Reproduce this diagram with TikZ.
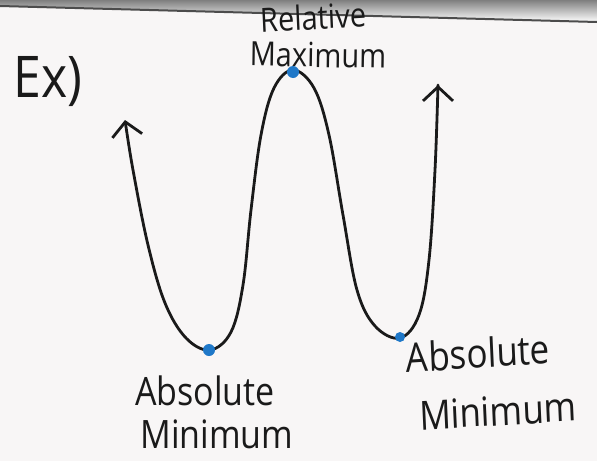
\documentclass[tikz,border=0pt]{standalone}
\usepackage{fontspec}
\setmainfont{Open Sans}
\usetikzlibrary{arrows.meta}
\definecolor{paper}{HTML}{F8F6F6}
\definecolor{ink}{HTML}{1A1A1A}
\definecolor{dot}{HTML}{1F78C8}
\definecolor{shade}{HTML}{D4D2D2}
\tikzset{
  curve/.style={ink, line width=2.8pt, line cap=round, line join=round},
  tipstyle/.style={-{Straight Barb[length=14pt,width=30pt,line width=2.8pt]}},
  extremum/.style={circle, fill=dot, inner sep=0pt, minimum size=12pt},
  hand/.style={ink, font=\fontsize{34}{34}\selectfont, inner sep=0pt, yscale=1.15},
}
\begin{document}
\begin{tikzpicture}[x=1pt,y=-1pt]
\useasboundingbox (0,0) rectangle (597,461);
\fill[paper] (0,0) rectangle (597,461);
% paper edge at the top
\fill[shade] (0,0) -- (597,0) -- (597,22) -- (0,6) -- cycle;
\draw[gray!60!black, line width=2pt] (0,6) -- (597,22);
% the curve
\draw[curve, tipstyle] plot[smooth, tension=0.6] coordinates {
  (438,85) (435,170) (429,260) (419,315) (400,338) (375,326) (357,290)
  (343,215) (329,135) (314,88) (293,70) (274,88) (261,135) (251,210)
  (243,285) (231,332) (210,350) (186,338) (165,303) (148,245) (133,170) (125,120)};
\draw[curve, tipstyle] (438,100) -- (438,85);
% extrema
\node[extremum] (mina) at (209,350) {};
\node[extremum] (maxr) at (293,72) {};
\node[extremum, minimum size=10pt] (minb) at (400,337) {};
% labels
\node[hand, font=\fontsize{50}{50}\selectfont] (ex) at (48,82) {Ex)};
\node[hand, font=\fontsize{29}{29}\selectfont, rotate=3] (rel) at (313,17) {Relative};
\node[hand, font=\fontsize{29}{29}\selectfont, rotate=-1] (maxt) at (318,55) {Maximum};
\node[hand] (abs1) at (205,391) {Absolute};
\node[hand] (minl1) at (217,434) {Minimum};
\node[hand, font=\fontsize{35}{35}\selectfont, rotate=3] (abs2) at (478,353) {Absolute};
\node[hand, font=\fontsize{35}{35}\selectfont, rotate=3] (minl2) at (498,411) {Minimum};
\end{tikzpicture}
\end{document}
